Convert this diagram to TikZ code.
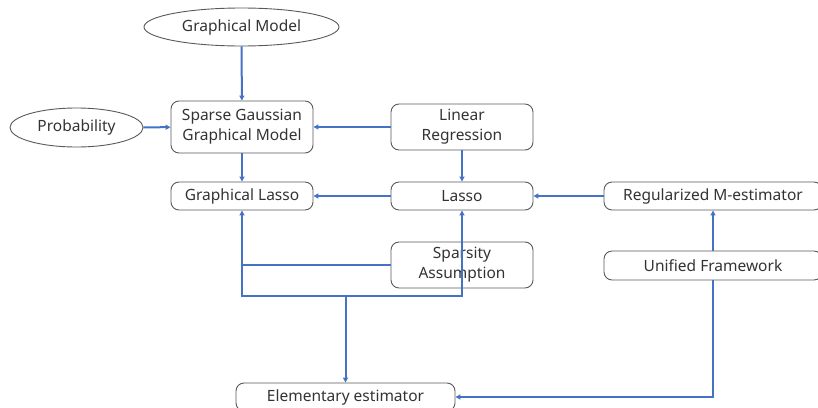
\documentclass[tikz,border=0pt]{standalone}
\usepackage{fontspec}
\setmainfont{Noto Sans}
\usepackage{tikz}
\usetikzlibrary{shapes.geometric, arrows.meta, positioning}
\definecolor{flecha}{HTML}{4472C4}
\definecolor{borde}{HTML}{595959}
\definecolor{texto}{HTML}{333333}

\begin{document}
\begin{tikzpicture}[x=1pt, y=-1pt,
        caja/.style={draw=borde, line width=0.9pt, rounded corners=8pt, text=texto,
                     align=center, inner sep=0pt, font=\fontsize{15.5}{20}\selectfont},
        elipse/.style={draw=borde, line width=0.9pt, ellipse, text=texto,
                       inner sep=0pt, font=\fontsize{15.5}{20}\selectfont},
        flechas/.style={draw=flecha, line width=2pt},
        >={Triangle[length=5pt, width=5pt]}]
        % Marco de la figura
        \clip (0,0) rectangle (818,407);
        % Elipses
        \node[elipse, minimum width=195, minimum height=38] (gm) at (241.5,27) {Graphical Model};
        \node[elipse, minimum width=133, minimum height=39] (prob) at (76.5,127.5) {Probability};
        % Cajas
        \node[caja, minimum width=142, minimum height=52] (sggm) at (242,127) {Sparse Gaussian\\Graphical Model};
        \node[caja, minimum width=142, minimum height=46] (linreg) at (462,127) {Linear\\Regression};
        \node[caja, minimum width=142, minimum height=28] (glasso) at (242,196) {Graphical Lasso};
        \node[caja, minimum width=142, minimum height=28] (lasso) at (462,196) {Lasso};
        \node[caja, minimum width=142, minimum height=46] (sparsity) at (462,265) {Sparsity\\Assumption};
        \node[caja, minimum width=218, minimum height=28] (regm) at (713,196) {Regularized M-estimator};
        \node[caja, minimum width=218, minimum height=29] (unified) at (713,265.5) {Unified Framework};
        \node[caja, minimum width=219, minimum height=28] (elem) at (345.5,397) {Elementary estimator};
        % Flechas
        \coordinate (bus) at (345.5,296);
        \draw[flechas, ->] (gm) -- (sggm);
        \draw[flechas, ->] (prob) -- (sggm);
        \draw[flechas, ->] (linreg) -- (sggm);
        \draw[flechas, ->] (sggm) -- (glasso);
        \draw[flechas, ->] (linreg) -- (lasso);
        \draw[flechas, ->] (lasso) -- (glasso);
        \draw[flechas, ->] (regm) -- (lasso);
        \draw[flechas, ->] (unified) -- (regm);
        \draw[flechas, ->] (unified.south) |- (elem.east);
        \draw[flechas, <->] (glasso.south) |- (bus) -| (lasso.south);
        \draw[flechas] (sparsity.west) -- (sparsity.west -| glasso.south);
        \draw[flechas, ->] (bus) -- (elem.north);
    \end{tikzpicture}
\end{document}
